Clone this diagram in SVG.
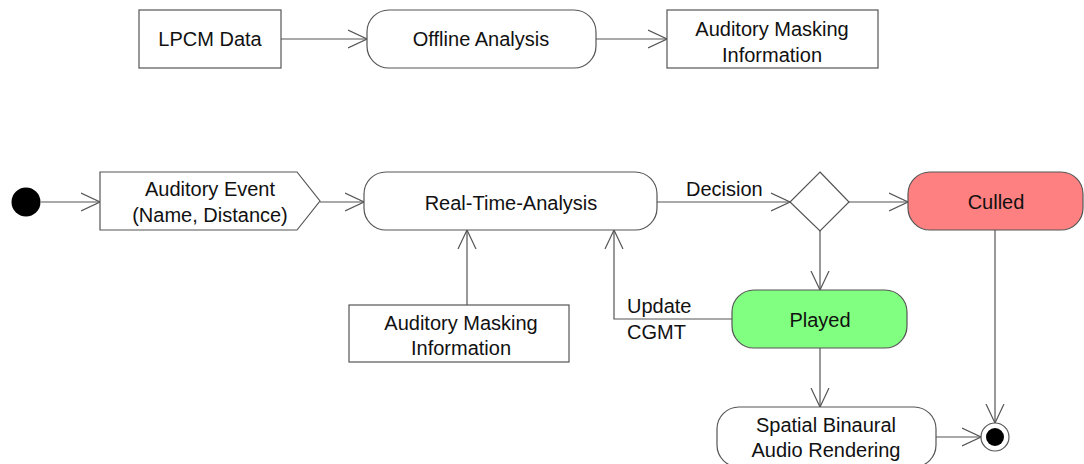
<svg xmlns="http://www.w3.org/2000/svg" width="1084" height="464" viewBox="0 0 1084 464">
<style>
.box{fill:#fff;stroke:#555;stroke-width:1.2}
.ln{fill:none;stroke:#555;stroke-width:1.2}
text{font-family:"Liberation Sans",Arial,sans-serif;font-size:20px;fill:#111;text-anchor:middle}
.l{text-anchor:start}
</style>
<defs>
<marker id="arr" viewBox="0 0 20 20" refX="19" refY="10" markerWidth="20" markerHeight="20" markerUnits="userSpaceOnUse" orient="auto">
<path d="M0,1 L19,10 L0,19" fill="none" stroke="#555" stroke-width="1.2"/>
</marker>
</defs>
<rect width="1084" height="464" fill="#fff"/>
<g id="connectors">
<line class="ln" x1="281" y1="39" x2="367" y2="39" marker-end="url(#arr)"/>
<line class="ln" x1="596" y1="39" x2="667" y2="39" marker-end="url(#arr)"/>
<line class="ln" x1="41" y1="202" x2="100" y2="202" marker-end="url(#arr)"/>
<line class="ln" x1="320" y1="202" x2="364" y2="202" marker-end="url(#arr)"/>
<line class="ln" x1="657" y1="202" x2="790" y2="202" marker-end="url(#arr)"/>
<line class="ln" x1="849" y1="202" x2="908" y2="202" marker-end="url(#arr)"/>
<line class="ln" x1="820" y1="231" x2="820" y2="290" marker-end="url(#arr)"/>
<line class="ln" x1="995" y1="230" x2="995" y2="423" marker-end="url(#arr)"/>
<line class="ln" x1="820" y1="348" x2="820" y2="407" marker-end="url(#arr)"/>
<line class="ln" x1="936" y1="437" x2="981" y2="437" marker-end="url(#arr)"/>
<line class="ln" x1="467" y1="305" x2="467" y2="230" marker-end="url(#arr)"/>
<polyline class="ln" points="732,319 614,319 614,230" marker-end="url(#arr)"/>
<text class="l" x="686" y="196">Decision</text>
<text class="l" x="627" y="313">Update</text>
<text class="l" x="627" y="339">CGMT</text>
</g>
<g id="lpcm">
<rect class="box" x="139" y="10" width="142" height="58"/>
<text x="210" y="46">LPCM Data</text>
</g>
<g id="offline">
<rect class="box" x="367" y="10" width="229" height="58" rx="22"/>
<text x="481" y="46">Offline Analysis</text>
</g>
<g id="amask-top">
<rect class="box" x="667" y="10" width="211" height="58"/>
<text x="772" y="36">Auditory Masking</text>
<text x="772" y="62">Information</text>
</g>
<g id="start">
<circle cx="26" cy="202" r="14.5" fill="#000"/>
</g>
<g id="event">
<polygon class="box" points="100,172 297,172 320,201 297,230 100,230"/>
<text x="210" y="196">Auditory Event</text>
<text x="210" y="222">(Name, Distance)</text>
</g>
<g id="realtime">
<rect class="box" x="364" y="172" width="293" height="58" rx="22"/>
<text x="511" y="210">Real-Time-Analysis</text>
</g>
<g id="decision">
<polygon class="box" points="820,172 849,202 820,231 790,202"/>
</g>
<g id="culled">
<rect x="908" y="172" width="175" height="58" rx="22" fill="#ff8080" stroke="#555" stroke-width="1.2"/>
<text x="996" y="209">Culled</text>
</g>
<g id="played">
<rect x="732" y="290" width="175" height="58" rx="22" fill="#80ff80" stroke="#555" stroke-width="1.2"/>
<text x="820" y="327">Played</text>
</g>
<g id="amask-bottom">
<rect class="box" x="349" y="305" width="220" height="57"/>
<text x="461" y="330">Auditory Masking</text>
<text x="461" y="355">Information</text>
</g>
<g id="spatial">
<rect class="box" x="717" y="407" width="219" height="60" rx="22"/>
<text x="826" y="432">Spatial Binaural</text>
<text x="826" y="457">Audio Rendering</text>
</g>
<g id="final">
<circle cx="995" cy="437" r="14" fill="#fff" stroke="#555" stroke-width="1.2"/>
<circle cx="995" cy="437" r="9" fill="#000"/>
</g>
</svg>
